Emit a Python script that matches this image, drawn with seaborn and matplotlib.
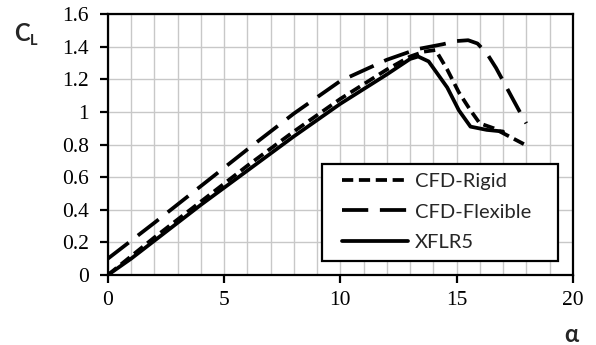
import matplotlib
matplotlib.use("Agg")
import matplotlib.pyplot as plt
import seaborn as sns
import pandas as pd
from matplotlib.ticker import MultipleLocator
from matplotlib.patches import Rectangle

# Data
rigid_alpha = [0, 2, 4, 6, 8, 10, 12, 13, 13.6, 14.1, 14.6, 15.1, 15.6, 16.0, 16.6, 17.4, 18.0]
rigid_cl = [0.0, 0.23, 0.45, 0.67, 0.88, 1.08, 1.26, 1.34, 1.37, 1.38, 1.26, 1.12, 1.01, 0.93, 0.90, 0.84, 0.795]

flex_alpha = [0, 2, 4, 6, 8, 10, 12, 13.3, 14.4, 15.0, 15.5, 15.9, 16.3, 16.7, 17.4, 17.8, 18.0]
flex_cl = [0.10, 0.32, 0.545, 0.77, 0.99, 1.19, 1.32, 1.385, 1.415, 1.435, 1.44, 1.42, 1.36, 1.27, 1.085, 0.98, 0.93]

xflr_alpha = [0, 1, 2, 4, 6, 8, 10, 12, 13.0, 13.35, 13.8, 14.6, 15.1, 15.6, 16.3, 17.0]
xflr_cl = [0.0, 0.10, 0.21, 0.43, 0.64, 0.85, 1.05, 1.23, 1.325, 1.34, 1.31, 1.15, 1.01, 0.91, 0.89, 0.88]

series_names = ["CFD-Rigid", "CFD-Flexible", "XFLR5"]

frames = []
for name, a, c in zip(series_names, [rigid_alpha, flex_alpha, xflr_alpha], [rigid_cl, flex_cl, xflr_cl]):
    frames.append(pd.DataFrame({"alpha": a, "CL": c, "series": name}))
df = pd.concat(frames, ignore_index=True)

sns.set_style("white")
plt.rcParams["font.family"] = ["Liberation Serif", "DejaVu Serif"]
plt.rcParams["lines.solid_capstyle"] = "round"
plt.rcParams["lines.dash_capstyle"] = "butt"

fig = plt.figure(figsize=(5.96, 3.45), dpi=100)
ax = fig.add_axes([0.181, 0.203, 0.78, 0.756])

sns.lineplot(data=df, x="alpha", y="CL", hue="series", style="series",
             hue_order=series_names, style_order=series_names,
             palette={n: "black" for n in series_names},
             dashes={"CFD-Rigid": (3.0, 1.5), "CFD-Flexible": (7.0, 3.1), "XFLR5": ""},
             sort=False, estimator=None, linewidth=2.7, ax=ax)

ax.set_xlim(0, 20)
ax.set_ylim(0, 1.6)
ax.xaxis.set_major_locator(MultipleLocator(5))
ax.xaxis.set_minor_locator(MultipleLocator(1))
ax.set_yticks([0, 0.2, 0.4, 0.6, 0.8, 1.0, 1.2, 1.4, 1.6])
ax.set_yticklabels(["0", "0.2", "0.4", "0.6", "0.8", "1", "1.2", "1.4", "1.6"])
ax.grid(True, which="both", color="#c8c8c8", linewidth=1.0)
ax.set_axisbelow(True)
for s in ax.spines.values():
    s.set_color("black")
    s.set_linewidth(1.6)
ax.tick_params(axis="both", which="major", direction="out", length=5.5, width=1.6,
               labelsize=15.5, colors="black", bottom=True, left=True)
ax.tick_params(axis="x", which="major", pad=6)
ax.tick_params(axis="y", which="major", pad=8)
ax.tick_params(which="minor", length=0)
ax.set_xlabel("")
ax.set_ylabel("")

fig.text(0.024, 0.882, "C", fontsize=17, fontweight="bold", family=["Lato", "DejaVu Sans"])
fig.text(0.050, 0.870, "L", fontsize=10.5, fontweight="bold", family=["Lato", "DejaVu Sans"])
fig.text(0.946, 0.010, "α", fontsize=17, fontweight="bold", family=["Lato", "DejaVu Sans"])

# legend frame
frame = Rectangle((0.460, 0.054), 0.508, 0.371, transform=ax.transAxes,
                  facecolor="white", edgecolor="black", linewidth=1.6, zorder=4)
ax.add_patch(frame)

leg = ax.legend(title=None, loc="upper left", bbox_to_anchor=(0.503, 0.390),
                prop={"family": ["Lato", "DejaVu Sans"], "size": 14.5},
                frameon=False, handlelength=3.3, handletextpad=0.35,
                borderpad=0, labelspacing=0.65, borderaxespad=0)
leg.set_zorder(5)

fig.savefig("out.png", dpi=100)
